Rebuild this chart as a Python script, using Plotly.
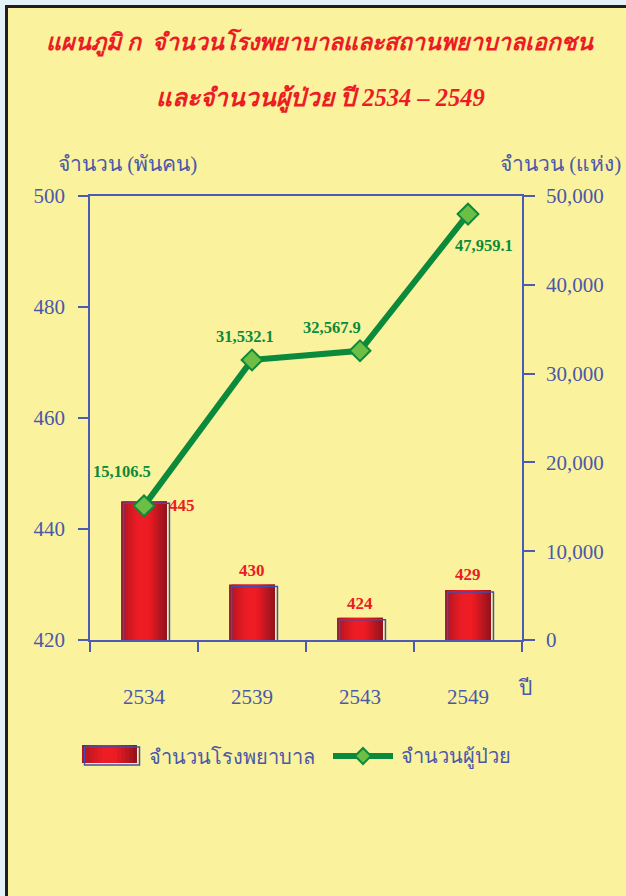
import plotly.graph_objects as go

# ---------------- data ----------------
years = ["2534", "2539", "2543", "2549"]
hospitals = [445, 430, 424, 429]
patients = [15106.5, 31532.1, 32567.9, 47959.1]
hospital_labels = ["445", "430", "424", "429"]
patient_labels = ["15,106.5", "31,532.1", "32,567.9", "47,959.1"]
left_ticks = [420, 440, 460, 480, 500]
right_ticks = [0, 10000, 20000, 30000, 40000, 50000]

title1 = "แผนภูมิ ก  จำนวนโรงพยาบาลและสถานพยาบาลเอกชน"
title2 = "และจำนวนผู้ป่วย ปี 2534 – 2549"
left_title = "จำนวน (พันคน)"
right_title = "จำนวน (แห่ง)"
x_title = "ปี"
legend_bar = "จำนวนโรงพยาบาล"
legend_line = "จำนวนผู้ป่วย"

# ---------------- layout geometry / style ----------------
W, H = 626, 896
L, R, T, B = 90, 104, 196, 256
PW = W - L - R
PH = H - T - B
LMIN, LMAX = 420, 500
RMIN, RMAX = 0, 50000


def px(x):
    return (x - L) / PW


def py(y):
    return (H - B - y) / PH


BLUE = "#4A58A8"
OUTLINE = "#3E4EB4"
RED = "#EC1C24"
GREEN = "#0B8A3C"
LGREEN = "#6CBE45"
BG = "#FBF29D"
OUTER = "#E4F3F7"
SERIF = "Liberation Serif, Times New Roman, serif"

DARK = (112, 14, 24)
BRIGHT = (238, 28, 36)
PROFILE = [(0.0, 0.45), (0.15, 0.72), (0.38, 1.0), (0.6, 1.0), (0.85, 0.55), (1.0, 0.25)]


def grad(t):
    for (t0, b0), (t1, b1) in zip(PROFILE[:-1], PROFILE[1:]):
        if t0 <= t <= t1:
            b = b0 + (b1 - b0) * (t - t0) / (t1 - t0)
            break
    c = [round(d + (br - d) * b) for d, br in zip(DARK, BRIGHT)]
    return "rgb(%d,%d,%d)" % tuple(c)


fig = go.Figure()

BW = 0.425
N = 20
step = BW / N
for i in range(N):
    t = (i + 0.5) / N
    off = -BW / 2 + i * step
    wid = min(step * 2.0, BW / 2 - off)
    fig.add_trace(go.Bar(
        x=years, y=hospitals, width=wid, offset=off,
        marker=dict(color=grad(t), line=dict(width=0)),
        showlegend=False, hoverinfo="skip",
    ))

# offset outline "shadow" of bars
dy = 2 * (LMAX - LMIN) / PH
dx = 2.5 / (PW / len(years))
fig.add_trace(go.Bar(
    x=years, y=[h - dy for h in hospitals], width=BW,
    offset=-BW / 2 + dx,
    marker=dict(color="rgba(0,0,0,0)", line=dict(color=OUTLINE, width=1.5)),
    showlegend=False, hoverinfo="skip",
))

fig.add_trace(go.Scatter(
    x=years, y=patients, yaxis="y2", mode="lines+markers",
    line=dict(color=GREEN, width=6),
    marker=dict(symbol="diamond", size=16, color=LGREEN, line=dict(color=GREEN, width=2)),
    showlegend=False, hoverinfo="skip",
))

tickfont = dict(family=SERIF, size=21, color=BLUE)
axcol = "#4C5CB4"

fig.update_layout(
    width=W, height=H,
    margin=dict(l=L, r=R, t=T, b=B),
    paper_bgcolor=OUTER, plot_bgcolor=BG,
    barmode="overlay", showlegend=False,
    xaxis=dict(type="category", categoryorder="array", categoryarray=years,
               range=[-0.5, 3.5], tickson="boundaries", ticks="outside", ticklen=10,
               tickcolor=axcol, tickwidth=1.5, showline=True, linecolor=axcol, linewidth=1.5,
               mirror=True, showgrid=False, zeroline=False, tickfont=tickfont,
               ticklabelstandoff=37),
    xaxis3=dict(overlaying="x", anchor="y", type="linear", range=[-0.5, 3.5],
                tickvals=[-0.5, 0.5, 1.5, 2.5, 3.5], ticks="inside", ticklen=10,
                tickcolor=axcol, tickwidth=1.5, showticklabels=False, showline=False,
                showgrid=False, zeroline=False, side="bottom"),
    yaxis=dict(range=[LMIN, LMAX], tickvals=left_ticks, ticks="outside", ticklen=10,
               tickcolor=axcol, tickwidth=1.5, showline=True, linecolor=axcol, linewidth=1.5,
               showgrid=False, zeroline=False, tickfont=tickfont, ticklabelstandoff=9),
    yaxis3=dict(overlaying="y", anchor="x", side="left", range=[LMIN, LMAX], tickvals=left_ticks,
                ticks="inside", ticklen=10, tickcolor=axcol, tickwidth=1.5,
                showticklabels=False, showline=False, showgrid=False, zeroline=False),
    yaxis2=dict(overlaying="y", anchor="x", side="right", range=[RMIN, RMAX], tickvals=right_ticks,
                tickformat=",", ticks="outside", ticklen=11, tickcolor=axcol, tickwidth=1.5,
                showline=True, linecolor=axcol, linewidth=1.5, showgrid=False, zeroline=False,
                tickfont=tickfont, ticklabelstandoff=7),
    yaxis4=dict(overlaying="y", anchor="x", side="right", range=[RMIN, RMAX], tickvals=right_ticks,
                ticks="inside", ticklen=10, tickcolor=axcol, tickwidth=1.5,
                showticklabels=False, showline=False, showgrid=False, zeroline=False),
)

shapes = []
# page frame
shapes.append(dict(type="rect", xref="paper", yref="paper", layer="below",
                   x0=px(6.5), x1=px(W + 20), y0=py(H + 20), y1=py(6.5),
                   fillcolor=BG, line=dict(color="#231F20", width=3)))
# legend bar swatch (gradient strips)
LX0, LX1, LY0, LY1 = 82, 137, 745, 763
NS = 14
for i in range(NS):
    xa = LX0 + (LX1 - LX0) * i / NS
    xb = LX0 + (LX1 - LX0) * (i + 2.0) / NS
    shapes.append(dict(type="rect", xref="paper", yref="paper",
                       x0=px(xa), x1=px(min(xb, LX1)), y0=py(LY1), y1=py(LY0),
                       fillcolor=grad((i + 0.5) / NS), line=dict(width=0)))
shapes.append(dict(type="rect", xref="paper", yref="paper",
                   x0=px(LX0 + 2.5), x1=px(LX1 + 2.5), y0=py(LY1 + 2), y1=py(LY0 + 2),
                   fillcolor="rgba(0,0,0,0)", line=dict(color=OUTLINE, width=1.5)))
# legend line swatch
shapes.append(dict(type="line", xref="paper", yref="paper",
                   x0=px(333), x1=px(393), y0=py(756), y1=py(756),
                   line=dict(color=GREEN, width=6)))
cx, cy, r = 363, 756, 8
path = "M %f,%f L %f,%f L %f,%f L %f,%f Z" % (
    px(cx), py(cy - r), px(cx + r), py(cy), px(cx), py(cy + r), px(cx - r), py(cy))
shapes.append(dict(type="path", xref="paper", yref="paper", path=path,
                   fillcolor=LGREEN, line=dict(color=GREEN, width=2)))
fig.update_layout(shapes=shapes)

ann = []
ann.append(dict(text="<b><i>%s</i></b>" % title1, x=px(320), y=py(42), xref="paper", yref="paper",
                showarrow=False, font=dict(family=SERIF, size=23.2, color=RED),
                xanchor="center", yanchor="middle"))
ann.append(dict(text="<b><i>%s</i></b>" % title2, x=px(320), y=py(99), xref="paper", yref="paper",
                showarrow=False, font=dict(family=SERIF, size=24.5, color=RED),
                xanchor="center", yanchor="middle"))
axfont = dict(family=SERIF, size=21, color=BLUE)
ann.append(dict(text=left_title, x=px(127), y=py(164), xref="paper", yref="paper",
                showarrow=False, font=axfont, xanchor="center", yanchor="middle"))
ann.append(dict(text=right_title, x=px(560), y=py(164), xref="paper", yref="paper",
                showarrow=False, font=axfont, xanchor="center", yanchor="middle"))
ann.append(dict(text=x_title, x=px(525), y=py(688), xref="paper", yref="paper",
                showarrow=False, font=axfont, xanchor="center", yanchor="middle"))
legfont = dict(family=SERIF, size=20, color=BLUE)
ann.append(dict(text=legend_bar, x=px(147), y=py(757), xref="paper", yref="paper",
                showarrow=False, font=legfont, xanchor="left", yanchor="middle"))
ann.append(dict(text=legend_line, x=px(399), y=py(757), xref="paper", yref="paper",
                showarrow=False, font=legfont, xanchor="left", yanchor="middle"))

bar_shift = [(38, -4), (0, 14), (0, 14), (0, 16)]
for i, (yv, lab, (sx, sy)) in enumerate(zip(hospitals, hospital_labels, bar_shift)):
    ann.append(dict(text="<b>%s</b>" % lab, x=i, y=yv, xref="x", yref="y", showarrow=False,
                    xshift=sx, yshift=sy, font=dict(family=SERIF, size=17, color=RED)))
line_shift = [(-22, 34), (-7, 23), (-28, 23), (16, -31)]
for i, (yv, lab, (sx, sy)) in enumerate(zip(patients, patient_labels, line_shift)):
    ann.append(dict(text="<b>%s</b>" % lab, x=i, y=yv, xref="x", yref="y2", showarrow=False,
                    xshift=sx, yshift=sy, font=dict(family=SERIF, size=16.5, color=GREEN)))
fig.update_layout(annotations=ann)

fig.write_html("out.html")
